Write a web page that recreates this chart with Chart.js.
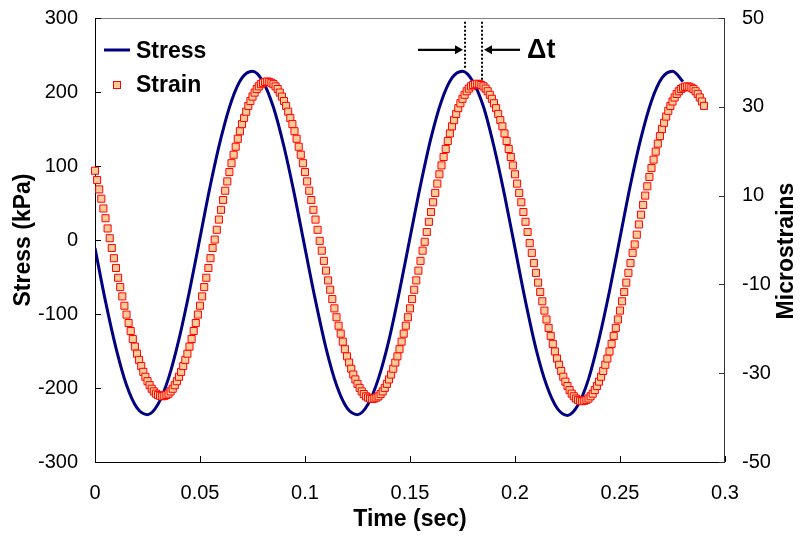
<!DOCTYPE html>
<html>
<head>
<meta charset="utf-8">
<script src="https://cdn.jsdelivr.net/npm/chart.js@4.4.1/dist/chart.umd.min.js"></script>
<style>html,body{margin:0;padding:0;background:#fff;}canvas{display:block;}</style>
</head>
<body>
<canvas id="c" width="800" height="536"></canvas>
<script>
// ---- data ----
const seriesNames = ['Stress', 'Strain'];
const axisTitles = { x: 'Time (sec)', left: 'Stress (kPa)', right: 'Microstrains' };

// Stress (kPa), one reading every 0.005 s starting at t = 0
const stressInterval = 0.005;
const stressKPa = [
  -11, -83, -146, -196, -227, -236, -222, -187, -134, -69, 3, 75, 138, 188, 219, 228, 214, 179, 126, 61,
  -11, -82, -146, -196, -227, -236, -222, -187, -135, -69, 3, 74, 138, 188, 219, 228, 214, 180, 126, 61,
  -11, -83, -147, -196, -227, -237, -223, -188, -134, -69, 3, 75, 138, 188, 219, 228, 214
];

// Strain (microstrains), one reading every 0.001 s starting at t = 0
const strainInterval = 0.001;
const strainMicro = [
  15.6, 13.5, 11.4, 9.3, 7.1, 4.9, 2.6, 0.4, -1.8, -4.1,
  -6.3, -8.5, -10.6, -12.7, -14.8, -16.8, -18.7, -20.5, -22.3, -24.0,
  -25.6, -27.0, -28.4, -29.7, -30.8, -31.8, -32.7, -33.5, -34.1, -34.6,
  -34.9, -35.1, -35.2, -35.1, -34.9, -34.6, -34.1, -33.5, -32.7, -31.8,
  -30.8, -29.7, -28.4, -27.0, -25.6, -24.0, -22.3, -20.5, -18.7, -16.8,
  -14.8, -12.7, -10.6, -8.5, -6.3, -4.1, -1.8, 0.1, 2.3, 4.6,
  6.8, 9.0, 11.1, 13.2, 15.3, 17.3, 19.2, 21.0, 22.8, 24.5,
  26.1, 27.5, 28.9, 30.2, 31.3, 32.3, 33.2, 34.0, 34.6, 35.1,
  35.4, 35.6, 35.7, 35.6, 35.4, 35.1, 34.6, 34.0, 33.2, 32.3,
  31.3, 30.2, 28.9, 27.5, 26.1, 24.5, 22.8, 21.0, 19.2, 17.3,
  15.3, 13.2, 11.1, 9.0, 6.8, 4.6, 2.3, -0.2, -2.4, -4.7,
  -6.9, -9.1, -11.2, -13.3, -15.4, -17.4, -19.3, -21.1, -22.9, -24.6,
  -26.2, -27.6, -29.0, -30.3, -31.4, -32.4, -33.3, -34.1, -34.7, -35.2,
  -35.5, -35.7, -35.8, -35.7, -35.5, -35.2, -34.7, -34.1, -33.3, -32.4,
  -31.4, -30.3, -29.0, -27.6, -26.2, -24.6, -22.9, -21.1, -19.3, -17.4,
  -15.4, -13.3, -11.2, -9.1, -6.9, -4.7, -2.4, -0.4, 1.8, 4.1,
  6.3, 8.5, 10.6, 12.7, 14.8, 16.8, 18.7, 20.5, 22.3, 24.0,
  25.6, 27.0, 28.4, 29.7, 30.8, 31.8, 32.7, 33.5, 34.1, 34.6,
  34.9, 35.1, 35.2, 35.1, 34.9, 34.6, 34.1, 33.5, 32.7, 31.8,
  30.8, 29.7, 28.4, 27.0, 25.6, 24.0, 22.3, 20.5, 18.7, 16.8,
  14.8, 12.7, 10.6, 8.5, 6.3, 4.1, 1.8, -0.7, -2.9, -5.2,
  -7.4, -9.6, -11.7, -13.8, -15.9, -17.9, -19.8, -21.6, -23.4, -25.1,
  -26.7, -28.1, -29.5, -30.8, -31.9, -32.9, -33.8, -34.6, -35.2, -35.7,
  -36.0, -36.2, -36.3, -36.2, -36.0, -35.7, -35.2, -34.6, -33.8, -32.9,
  -31.9, -30.8, -29.5, -28.1, -26.7, -25.1, -23.4, -21.6, -19.8, -17.9,
  -15.9, -13.8, -11.7, -9.6, -7.4, -5.2, -2.9, -1.0, 1.2, 3.5,
  5.7, 7.9, 10.0, 12.1, 14.2, 16.2, 18.1, 19.9, 21.7, 23.4,
  25.0, 26.4, 27.8, 29.1, 30.2, 31.2, 32.1, 32.9, 33.5, 34.0,
  34.3, 34.5, 34.6, 34.5, 34.3, 34.0, 33.5, 32.9, 32.1, 31.2,
  30.2
];

// Tick labels
const xTicks = [0, 0.05, 0.1, 0.15, 0.2, 0.25, 0.3];
const stressTicks = [-300, -200, -100, 0, 100, 200, 300];
const strainTicks = [-50, -30, -10, 10, 30, 50];

// Δt annotation (in data units: time in s, height in kPa)
const dtLabel = '\u0394t';
const dtStressPeakTime = 0.1762;
const dtStrainPeakTime = 0.1843;
const dtTopKPa = 295;
const dtStressPeakKPa = 232;
const dtStrainPeakKPa = 216;
const dtArrowKPa = 257;
const dtLeftTailTime = 0.1538;
const dtRightTailTime = 0.2024;
const dtLabelTime = 0.2057;

// ---- chart ----
const FONT = "Arial, 'Liberation Sans', sans-serif";
const NAVY = '#000080';
const MARK_FILL = '#FFCC99';
const MARK_EDGE = '#FF0000';

const stressPoints = stressKPa.map((v, i) => ({ x: +(i * stressInterval).toFixed(4), y: v }));
const strainPoints = strainMicro.map((v, i) => ({ x: +(i * strainInterval).toFixed(4), y: v }));

const framePlugin = {
  id: 'frame',
  beforeDatasetsDraw(chart) {
    const { ctx, chartArea: a, scales } = chart;
    ctx.save();
    ctx.lineWidth = 1;
    ctx.strokeStyle = '#808080';
    ctx.beginPath(); ctx.moveTo(a.left, a.top + 0.5); ctx.lineTo(a.right, a.top + 0.5); ctx.stroke();
    ctx.strokeStyle = '#000';
    ctx.beginPath();
    ctx.moveTo(a.left + 0.5, a.top); ctx.lineTo(a.left + 0.5, a.bottom + 0.5);
    ctx.lineTo(a.right, a.bottom + 0.5);
    ctx.stroke();
    ctx.strokeStyle = '#333';
    ctx.beginPath(); ctx.moveTo(a.right - 0.5, a.top); ctx.lineTo(a.right - 0.5, a.bottom + 0.5); ctx.stroke();
    ctx.strokeStyle = '#000';
    ctx.beginPath();
    xTicks.forEach(v => { const p = Math.round(scales.x.getPixelForValue(v)) + 0.5; ctx.moveTo(p, a.bottom); ctx.lineTo(p, a.bottom - 6); });
    stressTicks.forEach(v => { const p = Math.round(scales.yL.getPixelForValue(v)) + 0.5; ctx.moveTo(a.left, p); ctx.lineTo(a.left + 6, p); });
    ctx.stroke();
    ctx.strokeStyle = '#333';
    ctx.beginPath();
    strainTicks.forEach(v => { const p = Math.round(scales.yR.getPixelForValue(v)) + 0.5; ctx.moveTo(a.right, p); ctx.lineTo(a.right - 6, p); });
    ctx.stroke();
    ctx.restore();
  }
};

function arrow(ctx, x0, y, x1) {
  const dir = Math.sign(x1 - x0);
  ctx.beginPath(); ctx.moveTo(x0, y); ctx.lineTo(x1 - dir * 6, y); ctx.stroke();
  ctx.beginPath(); ctx.moveTo(x1, y); ctx.lineTo(x1 - dir * 8, y - 4.5); ctx.lineTo(x1 - dir * 8, y + 4.5); ctx.closePath(); ctx.fill();
}

const overlayPlugin = {
  id: 'overlay',
  afterDraw(chart) {
    const { ctx, scales } = chart;
    const X = scales.x, Y = scales.yL;
    ctx.save();
    ctx.strokeStyle = '#000'; ctx.lineWidth = 2; ctx.setLineDash([2, 2]);
    const xa = X.getPixelForValue(dtStressPeakTime), xb = X.getPixelForValue(dtStrainPeakTime);
    const yt = Y.getPixelForValue(dtTopKPa);
    ctx.beginPath(); ctx.moveTo(xa, yt); ctx.lineTo(xa, Y.getPixelForValue(dtStressPeakKPa)); ctx.stroke();
    ctx.beginPath(); ctx.moveTo(xb, yt); ctx.lineTo(xb, Y.getPixelForValue(dtStrainPeakKPa)); ctx.stroke();
    ctx.setLineDash([]);
    ctx.lineWidth = 2.2; ctx.fillStyle = '#000';
    const ya = Y.getPixelForValue(dtArrowKPa);
    arrow(ctx, X.getPixelForValue(dtLeftTailTime), ya, xa - 2);
    arrow(ctx, X.getPixelForValue(dtRightTailTime), ya, xb + 2);
    ctx.font = 'bold 27px ' + FONT; ctx.textBaseline = 'middle'; ctx.textAlign = 'left';
    ctx.fillText(dtLabel, X.getPixelForValue(dtLabelTime), ya + 1);

    // legend
    ctx.font = 'bold 23px ' + FONT;
    ctx.strokeStyle = NAVY; ctx.lineWidth = 3;
    ctx.beginPath(); ctx.moveTo(104, 50); ctx.lineTo(130, 50); ctx.stroke();
    ctx.fillStyle = '#000';
    ctx.fillText(seriesNames[0], 136, 52);
    ctx.fillStyle = MARK_FILL; ctx.fillRect(113.5, 81.5, 7, 7);
    ctx.strokeStyle = MARK_EDGE; ctx.lineWidth = 1; ctx.strokeRect(113.5, 81.5, 7, 7);
    ctx.fillStyle = '#000';
    ctx.fillText(seriesNames[1], 136, 86);

    // right axis title (reads bottom-to-top)
    ctx.save();
    ctx.translate(787, 251); ctx.rotate(-Math.PI / 2);
    ctx.textAlign = 'center'; ctx.textBaseline = 'middle';
    ctx.font = 'bold 23px ' + FONT;
    ctx.fillText(axisTitles.right, 0, 0);
    ctx.restore();
    ctx.restore();
  }
};

const tickFont = { family: FONT, size: 20 };
const titleFont = { family: FONT, size: 23, weight: 'bold', lineHeight: 1 };
const noPad = s => { s.paddingTop = 0; s.paddingBottom = 0; s.paddingLeft = 0; s.paddingRight = 0; };

new Chart(document.getElementById('c'), {
  type: 'line',
  data: {
    datasets: [
      {
        label: seriesNames[0], data: stressPoints, yAxisID: 'yL',
        borderColor: NAVY, backgroundColor: NAVY, borderWidth: 3,
        pointRadius: 0, cubicInterpolationMode: 'monotone', fill: false, order: 2
      },
      {
        label: seriesNames[1], data: strainPoints, yAxisID: 'yR',
        showLine: false, pointStyle: 'rect', pointRadius: 5,
        pointBackgroundColor: MARK_FILL, pointBorderColor: MARK_EDGE, pointBorderWidth: 1,
        order: 1, clip: false
      }
    ]
  },
  options: {
    responsive: false, animation: false, events: [],
    layout: { padding: { top: 18, left: 0, right: 0, bottom: 0 } },
    plugins: { legend: { display: false }, tooltip: { enabled: false } },
    scales: {
      x: {
        type: 'linear', position: 'bottom', min: 0, max: 0.3,
        afterBuildTicks: s => { s.ticks = xTicks.map(v => ({ value: v })); },
        afterFit: s => { s.height = 74; noPad(s); },
        grid: { display: false, drawTicks: false }, border: { display: false },
        ticks: { padding: 19, color: '#000', font: tickFont, maxRotation: 0, autoSkip: false,
                 callback: v => String(+(+v).toFixed(2)) },
        title: { display: true, text: axisTitles.x, color: '#000', font: titleFont, padding: { top: 0, bottom: 5 } }
      },
      yL: {
        type: 'linear', position: 'left', min: -300, max: 300,
        afterBuildTicks: s => { s.ticks = stressTicks.map(v => ({ value: v })); },
        afterFit: s => { s.width = 95; noPad(s); },
        grid: { display: false, drawTicks: false }, border: { display: false },
        ticks: { padding: 17, color: '#000', font: tickFont },
        title: { display: true, text: axisTitles.left, color: '#000', font: titleFont, padding: { top: 12, bottom: 0 } }
      },
      yR: {
        type: 'linear', position: 'right', min: -50, max: 50,
        afterBuildTicks: s => { s.ticks = strainTicks.map(v => ({ value: v })); },
        afterFit: s => { s.width = 75; noPad(s); },
        grid: { display: false, drawTicks: false }, border: { display: false },
        ticks: { padding: 17, color: '#000', font: tickFont }
      }
    }
  },
  plugins: [framePlugin, overlayPlugin]
});
</script>
</body>
</html>
